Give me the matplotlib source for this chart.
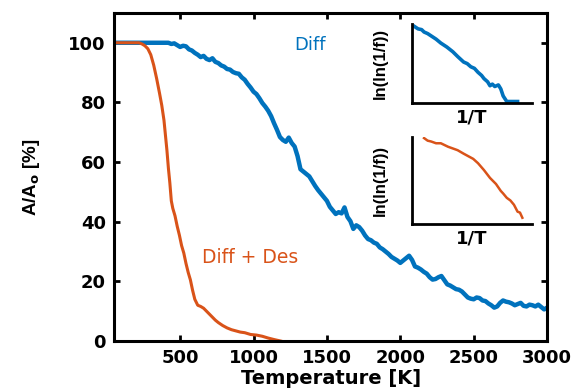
import matplotlib
matplotlib.use("Agg")
import matplotlib.pyplot as plt

# Diff curve (blue), sampled every 20 K from 400 K
diff_T = [50] + list(range(400, 3001, 20))
diff_A = [100,
          100, 100, 99.6, 99.8, 99.2, 98.6, 99.0, 98.8, 97.8, 97.4,
          96.6, 96.0, 95.2, 95.6, 94.6, 94.2, 94.8, 93.6, 93.2, 92.4,
          92.0, 91.2, 91.0, 90.2, 89.8, 89.6, 88.4, 87.6, 86.2, 85.0,
          83.6, 82.8, 81.4, 79.8, 78.6, 77.2, 75.4, 73.0, 70.8, 68.4,
          67.4, 66.8, 68.2, 66.4, 65.2, 62.0, 57.6, 56.8, 56.0, 55.2,
          53.6, 52.0, 50.6, 49.4, 48.2, 47.0, 45.0, 43.8, 42.6, 43.2,
          42.8, 44.8, 41.6, 40.2, 37.6, 38.8, 38.2, 37.0, 35.4, 34.2,
          33.8, 33.0, 32.6, 31.4, 30.8, 30.0, 29.2, 28.2, 27.6, 27.0,
          26.2, 27.0, 27.8, 28.6, 27.2, 25.0, 24.6, 24.0, 23.2, 22.6,
          21.4, 20.6, 20.8, 21.4, 21.8, 20.4, 19.0, 18.6, 18.0, 17.4,
          17.2, 16.6, 15.6, 14.6, 14.2, 14.0, 14.6, 14.4, 13.6, 13.4,
          12.6, 12.0, 11.2, 11.6, 12.8, 13.6, 13.2, 13.0, 12.6, 12.0,
          12.4, 12.8, 11.8, 11.6, 12.2, 12.0, 11.6, 12.2, 11.4, 10.6,
          11.2]

# Diff + Des curve (orange)
des_T = [50, 220, 240, 260, 280, 300, 320, 340, 360, 375, 390, 400, 410, 420, 430, 440,
         450, 465, 480, 495, 510, 525, 540, 555, 570, 585, 600, 620, 640, 660, 680, 700,
         720, 740, 760, 790, 820, 850, 880, 910, 940, 980, 1020, 1060, 1100, 1140, 1185]
des_A = [100, 100, 99.6, 99, 98, 96, 92.5, 88, 83, 79, 74, 69, 64, 58, 53, 47,
         44.5, 42, 38.5, 35.5, 32, 29.5, 26, 23, 20.5, 17, 14, 12, 11.6, 11, 10, 9,
         8, 7, 6.2, 5.2, 4.4, 3.8, 3.4, 3, 2.8, 2.2, 2, 1.6, 1, 0.5, 0]

# Arrhenius insets (arbitrary units)
ins1_x = [0.02, 0.05, 0.08, 0.10, 0.13, 0.16, 0.20, 0.24, 0.29, 0.34, 0.38, 0.43, 0.46,
          0.49, 0.52, 0.55, 0.58, 0.60, 0.63, 0.65, 0.67, 0.69, 0.72, 0.74, 0.76, 0.79, 0.83, 0.88]
ins1_y = [0.97, 0.94, 0.93, 0.90, 0.88, 0.85, 0.81, 0.76, 0.71, 0.65, 0.59, 0.52, 0.50,
          0.46, 0.44, 0.39, 0.35, 0.31, 0.27, 0.22, 0.24, 0.21, 0.23, 0.18, 0.09, 0.02, 0.02, 0.02]
ins2_x = [0.10, 0.13, 0.16, 0.20, 0.24, 0.30, 0.38, 0.43, 0.47, 0.51, 0.55, 0.60, 0.65,
          0.70, 0.74, 0.76, 0.79, 0.82, 0.85, 0.88, 0.90, 0.92]
ins2_y = [0.99, 0.96, 0.95, 0.93, 0.93, 0.89, 0.85, 0.81, 0.78, 0.75, 0.70, 0.62, 0.53,
          0.46, 0.38, 0.35, 0.30, 0.27, 0.22, 0.14, 0.13, 0.07]

blue = "#0072BD"
orange = "#D95319"

plt.rcParams["font.family"] = ["DejaVu Sans"]

fig = plt.figure(figsize=(5.82, 3.92), dpi=100)
ax = fig.add_axes([0.196, 0.130, 0.744, 0.837])
ax.plot(diff_T, diff_A, color=blue, lw=3.2)
ax.plot(des_T, des_A, color=orange, lw=2.2)
ax.set_xlim(50, 3000)
ax.set_ylim(0, 110)
ax.set_xticks([500, 1000, 1500, 2000, 2500, 3000])
ax.set_yticks([0, 20, 40, 60, 80, 100])
ax.tick_params(direction="in", top=True, right=True, length=4, width=2,
               labelsize=13, pad=6)
for lab in ax.get_xticklabels() + ax.get_yticklabels():
    lab.set_fontweight("bold")
for s in ax.spines.values():
    s.set_linewidth(2.2)
ax.set_xlabel("Temperature [K]", fontsize=14, fontweight="bold", labelpad=1)
ax.set_ylabel("A/A$_\\mathbf{o}$ [%]", fontsize=13.5, fontweight="bold",
              family="Liberation Sans")
ax.yaxis.set_label_coords(-0.166, 0.5)
ax.text(1280, 97.5, "Diff", color=blue, fontsize=13)
ax.text(650, 26, "Diff + Des", color=orange, fontsize=13.5)

for pos, xs, ys, c in [([0.708, 0.737, 0.206, 0.2015], ins1_x, ins1_y, blue),
                       ([0.708, 0.429, 0.206, 0.221], ins2_x, ins2_y, orange)]:
    ia = fig.add_axes(pos)
    ia.plot(xs, ys, color=c, lw=2.6 if c == blue else 1.8)
    ia.set_xlim(0, 1)
    ia.set_ylim(0, 1)
    ia.set_xticks([])
    ia.set_yticks([])
    ia.spines["top"].set_visible(False)
    ia.spines["right"].set_visible(False)
    ia.spines["left"].set_linewidth(2)
    ia.spines["bottom"].set_linewidth(2)
    ia.patch.set_alpha(0)
    ia.set_xlabel("1/T", fontsize=13, fontweight="bold", labelpad=4)
    ia.set_ylabel("ln(ln(1/f))", fontsize=12, fontweight="bold",
                  family="Liberation Sans")
    ia.yaxis.set_label_coords(-0.2, 0.5)

fig.savefig("out.png", dpi=100)
